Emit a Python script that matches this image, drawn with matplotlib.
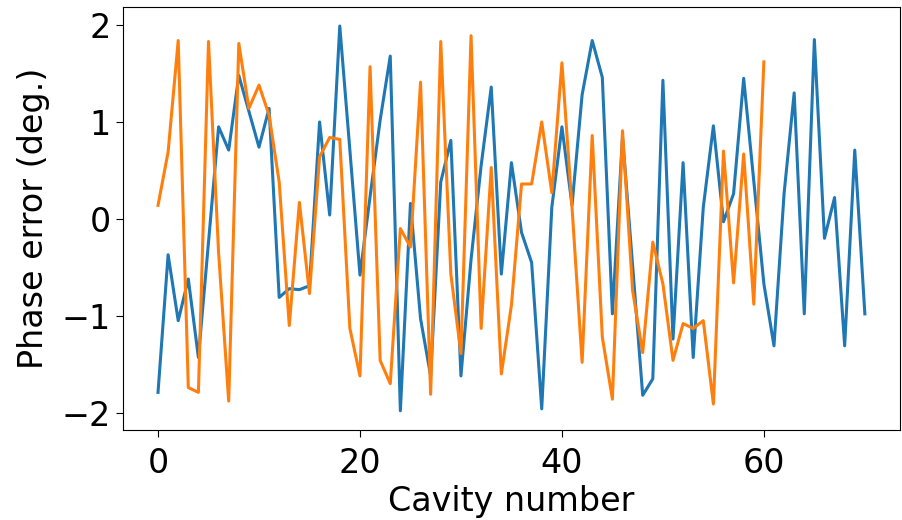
import matplotlib
matplotlib.use("Agg")
import matplotlib.pyplot as plt
import numpy as np

# phase error per cavity, two runs (degrees)
run_a = [
    -1.79, -0.37, -1.05, -0.62, -1.43, -0.24, 0.95, 0.71, 1.48, 1.11,
    0.74, 1.14, -0.81, -0.72, -0.73, -0.69, 1.00, 0.04, 1.99, 0.71,
    -0.58, 0.23, 1.02, 1.68, -1.98, 0.16, -1.03, -1.62, 0.38, 0.81,
    -1.62, -0.42, 0.55, 1.36, -0.57, 0.58, -0.14, -0.45, -1.96, 0.12,
    0.95, 0.14, 1.28, 1.84, 1.46, -0.98, 0.85, -0.48, -1.82, -1.65,
    1.43, -1.24, 0.58, -1.43, 0.12, 0.96, -0.03, 0.26, 1.45, 0.39,
    -0.67, -1.31, 0.26, 1.30, -0.98, 1.85, -0.20, 0.22, -1.31, 0.71,
    -0.98,
]
run_b = [
    0.14, 0.69, 1.84, -1.74, -1.79, 1.83, -0.35, -1.88, 1.81, 1.14,
    1.38, 1.07, 0.38, -1.10, 0.17, -0.77, 0.64, 0.84, 0.82, -1.13,
    -1.62, 1.57, -1.46, -1.70, -0.10, -0.29, 1.41, -1.81, 1.83, -0.57,
    -1.39, 1.89, -1.13, 0.53, -1.60, -0.89, 0.36, 0.36, 1.00, 0.27,
    1.61, 0.12, -1.48, 0.86, -1.22, -1.86, 0.91, -0.74, -1.38, -0.24,
    -0.67, -1.46, -1.08, -1.13, -1.05, -1.91, 0.70, -0.66, 0.67, -0.88,
    1.62,
]

fig = plt.figure(figsize=(9.02, 5.20), dpi=100)
ax = fig.add_axes([0.136, 0.173, 0.862, 0.814])
ax.plot(np.arange(len(run_a)), run_a, color="#1f77b4", lw=2.2)
ax.plot(np.arange(len(run_b)), run_b, color="#ff7f0e", lw=2.2)
ax.set_xticks([0, 20, 40, 60])
ax.set_yticks([-2, -1, 0, 1, 2])
ax.set_yticklabels(["\u22122", "\u22121", "0", "1", "2"])
ax.tick_params(labelsize=24, length=5)
ax.tick_params(axis="x", pad=7)
ax.set_xlabel("Cavity number", fontsize=24, labelpad=4)
ax.set_ylabel("Phase error (deg.)", fontsize=24, labelpad=8)

fig.savefig("out.png", dpi=100)
